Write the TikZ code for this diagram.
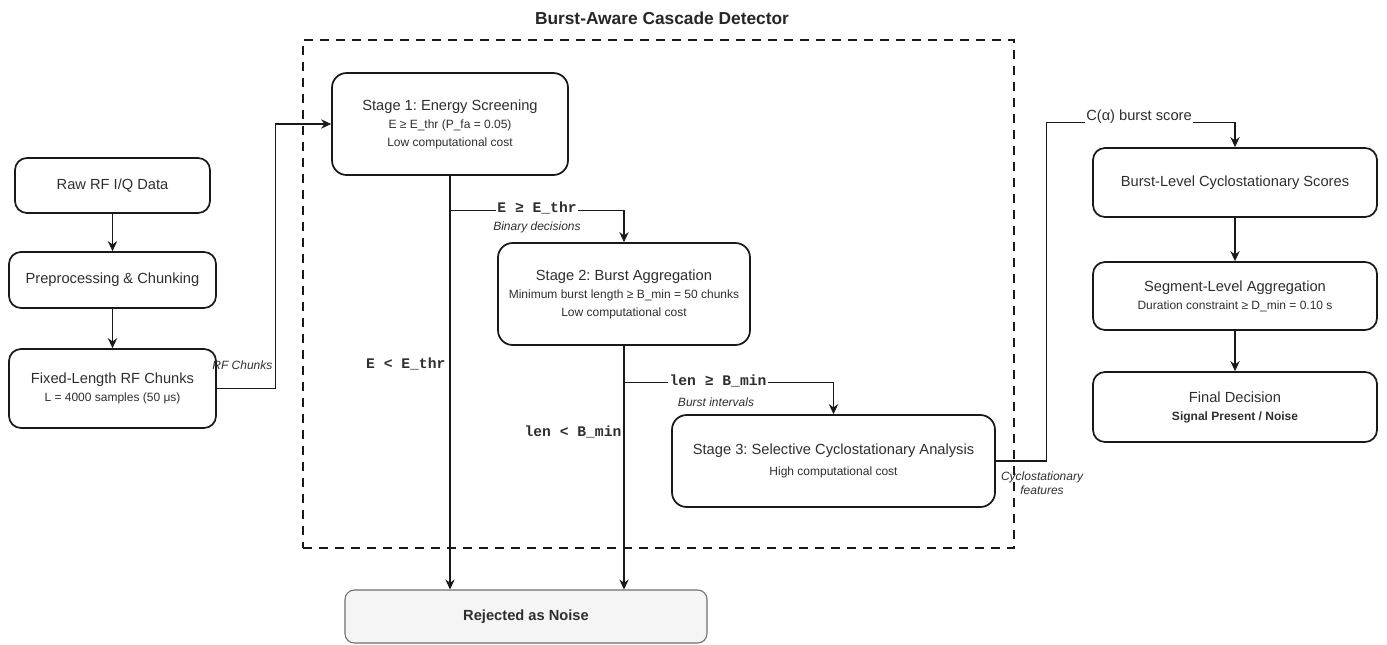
\documentclass[tikz,border=0pt]{standalone}
\usepackage{fontspec}
\setmainfont{Liberation Sans}
\setmonofont{Liberation Mono}
\usepackage{xcolor}
\usepackage{tikz}
\usetikzlibrary{arrows.meta}
\usetikzlibrary{calc}
\frenchspacing

\definecolor{inkgray}{HTML}{2E2E2E}
\definecolor{rejfill}{HTML}{F5F5F5}
\definecolor{rejline}{HTML}{6E6E6E}

\tikzset{
  block/.style={draw=black!90, line width=1.3pt, rounded corners=9pt, align=center, text=inkgray,
    font=\fontsize{9}{13.5}\selectfont, inner sep=0pt},
  flow/.style={draw=black!90, line width=0.9pt, -{Stealth[length=7.5pt,width=7pt]}},
  cond/.style={font=\ttfamily\bfseries\fontsize{11}{13}\selectfont, text=inkgray, fill=white, inner sep=1pt},
  note/.style={font=\itshape\fontsize{9}{10.5}\selectfont, text=inkgray, align=center, inner sep=1pt},
  frame/.style={draw=black!90, line width=0.9pt, dash pattern=on 7pt off 5pt, inner sep=0pt}
}
\newcommand{\btitle}[1]{{\fontsize{11}{13.5}\selectfont #1}}

\begin{document}
\begin{tikzpicture}[x=0.75pt,y=-0.75pt]
                    \useasboundingbox (0,0) rectangle (1387,644);
                    % detector frame
                    \node[frame, minimum width=533.25pt, minimum height=381pt] (cascade) at (658.5,294) {};
                    \node[font=\bfseries\fontsize{13}{15}\selectfont, text=black!85] (ttl) at (662,18) {Burst-Aware Cascade Detector};
                    % input chain
                    \node[block, minimum width=146.25pt, minimum height=41.25pt] (raw) at (112.5,185.5) {\btitle{Raw RF I/Q Data}};
                    \node[block, minimum width=155.25pt, minimum height=42pt] (prep) at (112.5,280) {\btitle{Preprocessing \& Chunking}};
                    \node[block, minimum width=155.25pt, minimum height=59.25pt] (fixed) at (112.5,388.5) {\btitle{Fixed-Length RF Chunks}\\L = 4000 samples (50 μs)};
                    % stages
                    \node[block, rounded corners=11pt, minimum width=177pt, minimum height=76.5pt] (s1) at (450,124) {\btitle{Stage 1: Energy Screening}\\E ≥ E\_thr (P\_fa = 0.05)\\Low computational cost};
                    \node[block, rounded corners=11pt, minimum width=189pt, minimum height=76.5pt] (s2) at (624,294) {\btitle{Stage 2: Burst Aggregation}\\Minimum burst length ≥ B\_min = 50 chunks\\Low computational cost};
                    \node[block, rounded corners=11pt, minimum width=242.25pt, minimum height=69pt] (s3) at (833.5,461) {\btitle{Stage 3: Selective Cyclostationary Analysis}\\[2pt]High computational cost};
                    \node[block, draw=rejline, line width=0.8pt, fill=rejfill, rounded corners=7pt, minimum width=271.5pt, minimum height=39.75pt] (rej) at (526,616.5) {\btitle{\bfseries Rejected as Noise}};
                    % output chain
                    \node[block, minimum width=213pt, minimum height=51.75pt] (burst) at (1235,182.5) {\btitle{Burst-Level Cyclostationary Scores}};
                    \node[block, minimum width=213pt, minimum height=51pt] (seg) at (1235,296) {\btitle{Segment-Level Aggregation}\\Duration constraint ≥ D\_min = 0.10 s};
                    \node[block, minimum width=213pt, minimum height=52.5pt] (final) at (1235,407) {\btitle{Final Decision}\\\bfseries Signal Present / Noise};
                    % connectors
                    \draw[flow] (raw) -- (prep);
                    \draw[flow] (prep) -- (fixed);
                    \draw[flow] (fixed.east) -- ++(59,0) |- (s1.west);
                    \draw[flow] (s1.south) -- (s1.south |- rej.north);
                    \draw[flow] (s2.south) -- (s2.south |- rej.north);
                    \coordinate (split1) at ($(s1.south)+(0,35)$);
                    \coordinate (split2) at ($(s2.south)+(0,37)$);
                    \draw[flow] (split1) -| (s2.north);
                    \draw[flow] (split2) -| (s3.north);
                    \draw[flow] (s3.east) -- ++(51,0) |- ($(burst.north)+(0,-25)$) -- (burst.north);
                    \draw[flow] (burst) -- (seg);
                    \draw[flow] (seg) -- (final);
                    % labels
                    \node[note, anchor=east] (rflbl) at (274,365) {RF Chunks};
                    \node[cond] (pass1) at (537,208) {E ≥ E\_thr};
                    \node[note] (binlbl) at (537,227) {Binary decisions};
                    \node[cond, fill=none, anchor=east] (drop1) at (447,364) {E < E\_thr};
                    \node[cond] (pass2) at (718,381) {len ≥ B\_min};
                    \node[note] (burstlbl) at (716,402) {Burst intervals};
                    \node[cond, fill=none, anchor=east] (drop2) at (623,432) {len < B\_min};
                    \node[note] (featlbl) at (1042,483) {Cyclostationary\\features};
                    \node[font=\fontsize{11}{13}\selectfont, text=inkgray, fill=white, inner sep=1pt] (scorelbl) at (1139,117) {C(α) burst score};
                \end{tikzpicture}
\end{document}
